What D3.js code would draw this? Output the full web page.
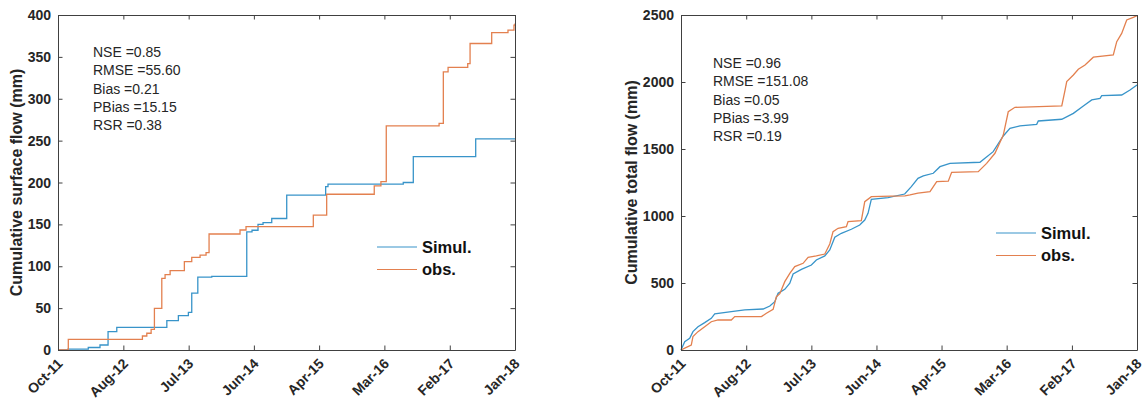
<!DOCTYPE html>
<html>
<head>
<meta charset="utf-8">
<script src="https://cdn.jsdelivr.net/npm/d3@7"></script>
<style>
	body { margin: 0; background: #fff; }
	svg { display: block; }
</style>
</head>
<body>
<div id="chart"></div>
<script>
// time is in decimal years, values in mm
const surfSimT = [2011.750, 2011.887, 2012.164, 2012.324, 2012.434, 2012.553, 2013.237, 2013.395, 2013.532, 2013.578, 2013.661, 2013.852, 2014.331, 2014.403, 2014.485, 2014.554, 2014.673, 2014.878, 2015.411, 2015.443, 2016.472, 2016.609, 2017.462, 2018.000];
const surfSimV = [0, 1, 3, 6, 22, 27, 35, 41, 45, 68, 87, 88, 141, 143, 150, 152, 157, 185, 195, 198, 200, 231, 252, 252];
const surfObsT = [2011.750, 2011.891, 2012.903, 2012.963, 2013.022, 2013.067, 2013.168, 2013.213, 2013.282, 2013.477, 2013.578, 2013.692, 2013.774, 2013.815, 2014.239, 2014.321, 2015.242, 2015.425, 2016.076, 2016.167, 2016.240, 2016.961, 2017.019, 2017.084, 2017.353, 2017.385, 2017.681, 2017.904, 2017.986, 2018.000];
const surfObsV = [0, 12.7, 16.7, 20, 24.6, 49.8, 85.6, 90, 94.7, 105.5, 110.6, 113.4, 116.2, 138.5, 143.3, 147.2, 161, 186, 196, 201, 267.5, 270.6, 332, 337.5, 342, 366, 379, 382, 388, 390];

const totSimT = [2011.750, 2011.801, 2011.869, 2011.914, 2011.983, 2012.075, 2012.165, 2012.212, 2012.439, 2012.623, 2012.874, 2012.966, 2013.034, 2013.079, 2013.171, 2013.240, 2013.285, 2013.399, 2013.536, 2013.604, 2013.720, 2013.788, 2013.857, 2013.947, 2014.084, 2014.199, 2014.268, 2014.313, 2014.358, 2014.587, 2014.816, 2014.907, 2014.998, 2015.071, 2015.208, 2015.300, 2015.437, 2015.848, 2015.917, 2016.030, 2016.168, 2016.259, 2016.396, 2016.625, 2016.647, 2016.968, 2017.127, 2017.264, 2017.379, 2017.493, 2017.516, 2017.790, 2017.904, 2018.000];
const totSimV = [0, 62, 87, 137, 174, 204, 236, 269, 286, 299, 306, 328, 361, 423, 453, 498, 567, 602, 634, 672, 702, 746, 841, 871, 901, 933, 970, 1020, 1125, 1137, 1164, 1219, 1281, 1299, 1319, 1368, 1393, 1401, 1431, 1480, 1597, 1654, 1672, 1684, 1709, 1722, 1766, 1821, 1866, 1878, 1898, 1903, 1940, 1978];
const totObsT = [2011.750, 2011.823, 2011.891, 2011.914, 2011.983, 2012.075, 2012.165, 2012.257, 2012.439, 2012.486, 2012.851, 2012.919, 2013.011, 2013.056, 2013.103, 2013.171, 2013.240, 2013.308, 2013.422, 2013.491, 2013.604, 2013.720, 2013.788, 2013.833, 2013.902, 2014.016, 2014.039, 2014.221, 2014.268, 2014.358, 2014.632, 2014.820, 2014.889, 2014.998, 2015.163, 2015.255, 2015.414, 2015.460, 2015.825, 2015.940, 2016.054, 2016.168, 2016.236, 2016.328, 2016.968, 2017.013, 2017.036, 2017.127, 2017.195, 2017.287, 2017.401, 2017.675, 2017.722, 2017.790, 2017.859, 2017.949, 2018.000];
const totObsV = [0, 20, 37, 100, 137, 174, 211, 224, 224, 249, 249, 274, 303, 398, 420, 510, 572, 622, 647, 692, 702, 716, 791, 883, 908, 920, 958, 965, 1107, 1144, 1149, 1150, 1157, 1170, 1182, 1256, 1260, 1326, 1331, 1393, 1468, 1604, 1778, 1811, 1821, 1940, 2003, 2052, 2095, 2127, 2185, 2202, 2301, 2363, 2463, 2483, 2495];

const statLabels = ['NSE', 'RMSE', 'Bias', 'PBias', 'RSR'];
const surfStats = ['0.85', '55.60', '0.21', '15.15', '0.38'];
const totStats = ['0.96', '151.08', '0.05', '3.99', '0.19'];
const seriesNames = ['Simul.', 'obs.'];

const timeStart = 2011.75, timeEnd = 2018.0, nTicks = 8;

const simColor = '#3894c9',
	obsColor = '#e3804f',
	axisColor = '#404040',
	textColor = '#262626',
	fontFam = '"Liberation Sans", Arial, Helvetica, sans-serif';

function yearToDate(y){
	let yr = Math.floor(y),
		a = new Date(yr, 0, 1),
		b = new Date(yr + 1, 0, 1);
	return new Date(+a + (y - yr) * (b - a));
}

const svg = d3.select('#chart').append('svg')
	.attr('width', 1146)
	.attr('height', 400)
	.style('font-family', fontFam);

function drawPanel(cfg){
	let g = svg.append('g'),
		x = d3.scaleTime().domain([yearToDate(timeStart), yearToDate(timeEnd)]).range([cfg.left, cfg.right]),
		y = d3.scaleLinear().domain([0, cfg.yMax]).range([cfg.bottom, cfg.top]),
		xTicks = d3.range(nTicks).map(k => yearToDate(timeStart + k * (timeEnd - timeStart) / (nTicks - 1))),
		yTicks = d3.range(0, cfg.yMax + 1, cfg.yStep),
		fmt = d3.timeFormat('%b-%y');

	// curves
	let line = d3.line()
		.x(d => x(yearToDate(d[0])))
		.y(d => y(d[1]))
		.curve(cfg.curve);
	let series = [
		{t: cfg.simT, v: cfg.simV, color: simColor},
		{t: cfg.obsT, v: cfg.obsV, color: obsColor}
	];
	series.forEach(function(s){
		g.append('path')
			.datum(s.t.map((t, i) => [t, s.v[i]]))
			.attr('d', line)
			.attr('fill', 'none')
			.attr('stroke', s.color)
			.attr('stroke-width', 1.3);
	});

	// axes, MATLAB style: box with inward ticks
	let tl = 4.5;
	g.append('g')
		.attr('transform', 'translate(0,' + cfg.bottom + ')')
		.call(d3.axisBottom(x).tickValues(xTicks).tickSizeInner(-tl).tickSizeOuter(0).tickFormat(''));
	g.append('g')
		.attr('transform', 'translate(0,' + cfg.top + ')')
		.call(d3.axisTop(x).tickValues(xTicks).tickSizeInner(-tl).tickSizeOuter(0).tickFormat(''));
	g.append('g')
		.attr('transform', 'translate(' + cfg.left + ',0)')
		.call(d3.axisLeft(y).tickValues(yTicks).tickSizeInner(-tl).tickSizeOuter(0).tickFormat(''));
	g.append('g')
		.attr('transform', 'translate(' + cfg.right + ',0)')
		.call(d3.axisRight(y).tickValues(yTicks).tickSizeInner(-tl).tickSizeOuter(0).tickFormat(''));
	g.selectAll('.domain, .tick line').attr('stroke', axisColor).attr('stroke-width', 1);

	// tick labels
	g.selectAll('text.ylab')
		.data(yTicks)
		.enter().append('text')
		.attr('class', 'ylab')
		.attr('x', cfg.left - 7)
		.attr('y', d => y(d))
		.attr('dy', '0.36em')
		.attr('text-anchor', 'end')
		.style('font-size', '14px')
		.style('font-weight', 'bold')
		.style('fill', textColor)
		.text(d => d);

	g.selectAll('text.xlab')
		.data(xTicks)
		.enter().append('text')
		.attr('class', 'xlab')
		.attr('transform', d => 'translate(' + (x(d) + 2) + ',' + (cfg.bottom + 11) + ') rotate(-45)')
		.attr('dy', '0.36em')
		.attr('text-anchor', 'end')
		.style('font-size', '14px')
		.style('font-weight', 'bold')
		.style('fill', textColor)
		.text(d => fmt(d));

	// y axis title
	g.append('text')
		.attr('transform', 'translate(' + cfg.titleX + ',' + ((cfg.top + cfg.bottom) / 2) + ') rotate(-90)')
		.attr('text-anchor', 'middle')
		.style('font-size', '16px')
		.style('font-weight', 'bold')
		.style('fill', textColor)
		.text(cfg.yTitle);

	// statistics
	g.selectAll('text.stat')
		.data(statLabels)
		.enter().append('text')
		.attr('class', 'stat')
		.attr('x', cfg.statX)
		.attr('y', (d, i) => cfg.statY + i * 18.3)
		.style('font-size', '14px')
		.style('fill', textColor)
		.text((d, i) => d + ' =' + cfg.stats[i]);

	// legend
	seriesNames.forEach(function(nm, i){
		let ly = cfg.legY + i * 22.5;
		g.append('line')
			.attr('x1', cfg.legX)
			.attr('x2', cfg.legX + 40)
			.attr('y1', ly)
			.attr('y2', ly)
			.attr('stroke', i === 0 ? simColor : obsColor)
			.attr('stroke-width', 1.1);
		g.append('text')
			.attr('x', cfg.legX + 45)
			.attr('y', ly)
			.attr('dy', '0.36em')
			.style('font-size', '16.5px')
			.style('font-weight', 'bold')
			.style('fill', '#111')
			.text(nm);
	});
}

drawPanel({
	left: 58, right: 515, top: 15, bottom: 350,
	yMax: 400, yStep: 50,
	curve: d3.curveStepAfter,
	simT: surfSimT, simV: surfSimV, obsT: surfObsT, obsV: surfObsV,
	yTitle: 'Cumulative surface flow (mm)', titleX: 22,
	stats: surfStats, statX: 93, statY: 57,
	legX: 377, legY: 247
});

drawPanel({
	left: 681, right: 1137, top: 15, bottom: 350,
	yMax: 2500, yStep: 500,
	curve: d3.curveLinear,
	simT: totSimT, simV: totSimV, obsT: totObsT, obsV: totObsV,
	yTitle: 'Cumulative total flow (mm)', titleX: 637,
	stats: totStats, statX: 713, statY: 68,
	legX: 996, legY: 233
});
</script>
</body>
</html>
